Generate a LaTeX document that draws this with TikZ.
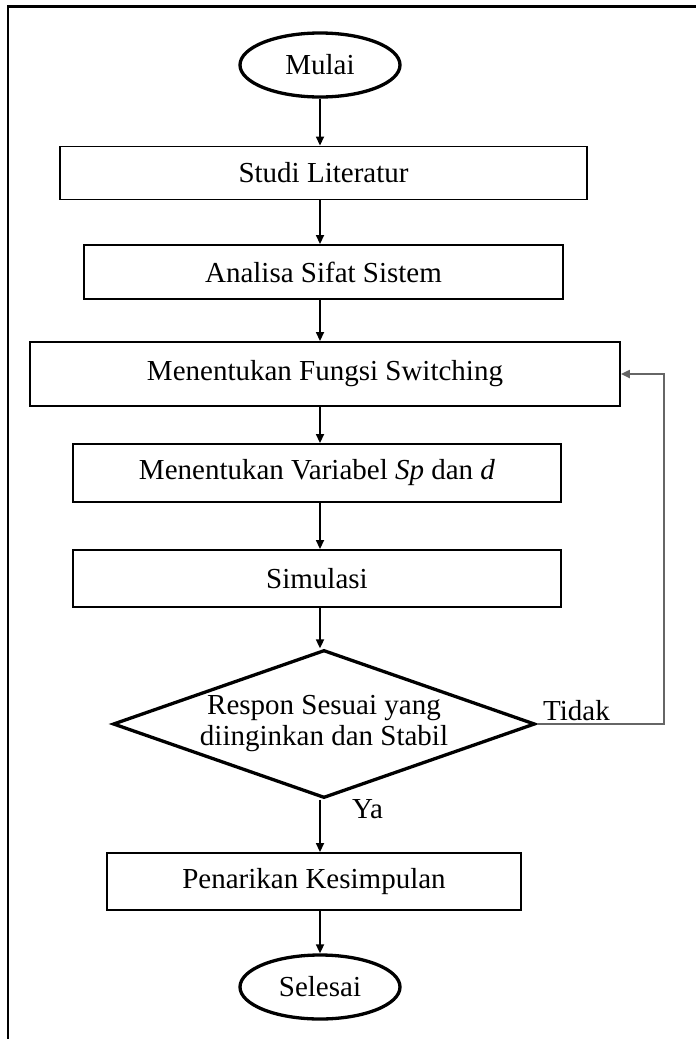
\documentclass[tikz,border=0pt]{standalone}
\usepackage{fontspec}
\setmainfont{Liberation Serif}
\usetikzlibrary{arrows.meta, positioning, shapes.geometric}

\begin{document}
\begin{tikzpicture}[x=1pt, y=-1pt,
  every node/.style={font=\fontsize{29}{31}\selectfont},
  proc/.style={draw, line width=1.9pt, inner sep=0pt, text centered},
  term/.style={draw, ellipse, line width=3.3pt, inner sep=0pt,
               minimum width=160pt, minimum height=64pt},
  dec/.style={draw, diamond, aspect=2.85, line width=3.3pt, inner sep=0pt, align=center,
              minimum width=422pt, minimum height=148pt},
  arr/.style={-{Triangle[length=9pt, width=8pt]}, line width=1.7pt},
  back/.style={arr, draw=black!60, line width=2.2pt},
  lbl/.style={inner sep=0pt}]

  \useasboundingbox (0, 0) rectangle (696, 1039);

  % Frame (left and top only)
  \draw[line width=2.2pt, line join=miter] (8, 1039) -- (8, 6.5) -- (696, 6.5);

  % Steps
  \node[term] (mulai) at (320, 65) {Mulai};
  \node[proc, minimum width=527pt, minimum height=53pt] (studi) at (323.5, 173) {Studi Literatur};
  \node[proc, minimum width=479pt, minimum height=54pt] (analisa) at (323.5, 272) {Analisa Sifat Sistem};
  \node[proc, minimum width=590pt, minimum height=64pt] (fungsi) at (325, 374) {Menentukan Fungsi Switching};
  \node[proc, minimum width=488pt, minimum height=58pt] (variabel) at (317, 473) {Menentukan Variabel \textit{Sp} dan \textit{d}};
  \node[proc, minimum width=488pt, minimum height=57pt] (simulasi) at (317, 578.5) {Simulasi};
  \node[dec] (respon) at (324, 724) {Respon Sesuai yang\\diinginkan dan Stabil};
  \node[proc, minimum width=414pt, minimum height=57pt] (penarikan) at (314, 881.5) {Penarikan Kesimpulan};
  \node[term] (selesai) at (320, 987) {Selesai};

  % Branch labels
  \node[lbl, anchor=base west] (tidak) at (543, 720) {Tidak};
  \node[lbl, anchor=base west] (ya) at (352, 818) {Ya};

  % Main flow, all on the column of Mulai
  \foreach \a/\b in {mulai/studi, studi/analisa, analisa/fungsi, fungsi/variabel,
                     variabel/simulasi, simulasi/respon, respon/penarikan, penarikan/selesai}
    \draw[arr] (\a.south -| mulai) -- (\b.north -| mulai);

  % Loop back when the response is not yet right
  \coordinate (turn) at (664, 374);
  \draw[back] (respon.east) -| (turn) -- (fungsi.east);

\end{tikzpicture}
\end{document}
